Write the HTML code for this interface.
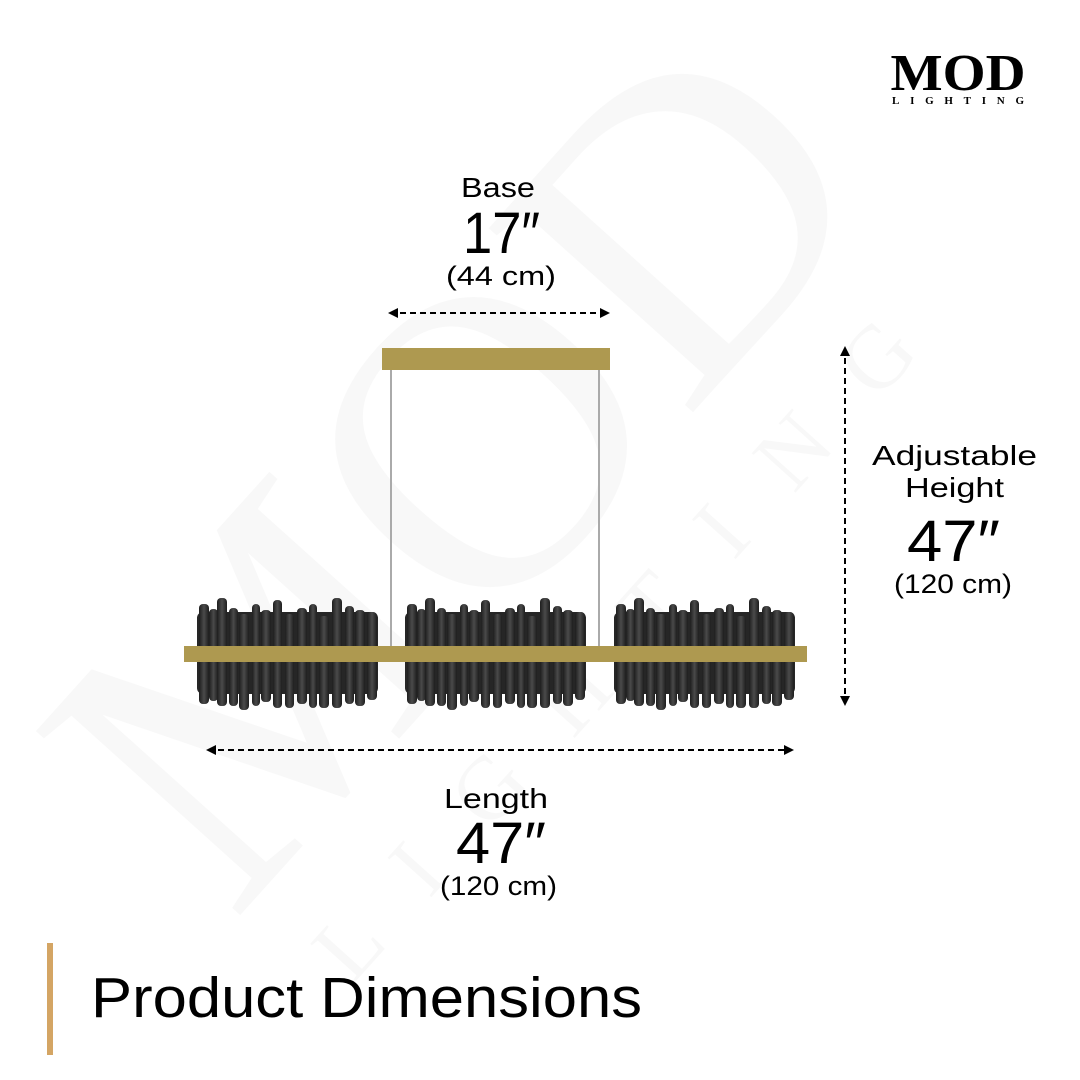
<!DOCTYPE html>
<html><head><meta charset="utf-8"><style>
html,body{margin:0;padding:0;background:#fff;}
svg{display:block;}
text{font-family:"Liberation Sans",sans-serif;fill:#000;}
</style></head><body>
<svg width="1080" height="1080" viewBox="0 0 1080 1080" xmlns="http://www.w3.org/2000/svg">
<defs>
<linearGradient id="fg" x1="0" x2="1" y1="0" y2="0">
<stop offset="0" stop-color="#1e1e1e"/><stop offset="0.5" stop-color="#4a4a4a"/><stop offset="1" stop-color="#1e1e1e"/>
</linearGradient>
<g id="cl">
<rect x="0" y="612" width="181" height="82" rx="6" fill="#262626"/>
<rect x="2" y="604" width="10" height="100" rx="4" fill="url(#fg)"/>
<rect x="12" y="609" width="9" height="92" rx="4" fill="url(#fg)"/>
<rect x="20" y="598" width="10" height="108" rx="4" fill="url(#fg)"/>
<rect x="32" y="608" width="9" height="98" rx="4" fill="url(#fg)"/>
<rect x="42" y="614" width="10" height="96" rx="4" fill="url(#fg)"/>
<rect x="55" y="604" width="8" height="102" rx="4" fill="url(#fg)"/>
<rect x="64" y="610" width="10" height="92" rx="4" fill="url(#fg)"/>
<rect x="76" y="600" width="9" height="108" rx="4" fill="url(#fg)"/>
<rect x="88" y="614" width="9" height="94" rx="4" fill="url(#fg)"/>
<rect x="100" y="608" width="10" height="96" rx="4" fill="url(#fg)"/>
<rect x="112" y="604" width="8" height="104" rx="4" fill="url(#fg)"/>
<rect x="122" y="616" width="10" height="92" rx="4" fill="url(#fg)"/>
<rect x="135" y="598" width="10" height="110" rx="4" fill="url(#fg)"/>
<rect x="148" y="606" width="9" height="98" rx="4" fill="url(#fg)"/>
<rect x="158" y="610" width="10" height="96" rx="4" fill="url(#fg)"/>
<rect x="170" y="612" width="10" height="88" rx="4" fill="url(#fg)"/>
</g>
<marker id="ah" markerWidth="10" markerHeight="10" refX="8" refY="5" orient="auto-start-reverse" markerUnits="userSpaceOnUse">
<path d="M0,0 L10,5 L0,10 Z" fill="#000"/></marker>
</defs>
<g opacity="0.025" transform="translate(560,560) rotate(-48)">
<text x="0" y="0" text-anchor="middle" font-size="420" style="font-family:'Liberation Serif',serif">MOD</text>
<text x="0" y="130" text-anchor="middle" font-size="90" letter-spacing="60" style="font-family:'Liberation Serif',serif">LIGHTING</text>
</g>
<text x="958" y="90" text-anchor="middle" font-size="52" font-weight="bold" style="font-family:'Liberation Serif',serif" textLength="135" lengthAdjust="spacingAndGlyphs">MOD</text>
<text x="958" y="104" text-anchor="middle" font-size="11" font-weight="bold" style="font-family:'Liberation Serif',serif" textLength="132" lengthAdjust="spacing">LIGHTING</text>
<line x1="391" y1="370" x2="391" y2="648" stroke="#aaa" stroke-width="2"/>
<line x1="599" y1="370" x2="599" y2="648" stroke="#aaa" stroke-width="2"/>
<rect x="382" y="348" width="228" height="22" fill="#ae9950"/>
<use href="#cl" transform="translate(197,0)"/>
<use href="#cl" transform="translate(405,0)"/>
<use href="#cl" transform="translate(614,0)"/>
<rect x="184" y="646" width="623" height="16" fill="#ae9950"/>
<line x1="390" y1="313" x2="608" y2="313" stroke="#000" stroke-width="2" stroke-dasharray="6,4" marker-start="url(#ah)" marker-end="url(#ah)"/>
<line x1="845" y1="348" x2="845" y2="704" stroke="#000" stroke-width="2" stroke-dasharray="6,4" marker-start="url(#ah)" marker-end="url(#ah)"/>
<line x1="208" y1="750" x2="792" y2="750" stroke="#000" stroke-width="2" stroke-dasharray="6,4" marker-start="url(#ah)" marker-end="url(#ah)"/>
<text x="461" y="197" font-size="28" textLength="74" lengthAdjust="spacingAndGlyphs">Base</text>
<text x="463" y="253" font-size="58" textLength="77" lengthAdjust="spacingAndGlyphs">17″</text>
<text x="446" y="285" font-size="27" textLength="110" lengthAdjust="spacingAndGlyphs">(44 cm)</text>
<text x="872" y="465" font-size="28" textLength="165" lengthAdjust="spacingAndGlyphs">Adjustable</text>
<text x="905" y="497" font-size="28" textLength="99" lengthAdjust="spacingAndGlyphs">Height</text>
<text x="907" y="561" font-size="58" textLength="93" lengthAdjust="spacingAndGlyphs">47″</text>
<text x="894" y="593" font-size="27" textLength="118" lengthAdjust="spacingAndGlyphs">(120 cm)</text>
<text x="444" y="808" font-size="28" textLength="104" lengthAdjust="spacingAndGlyphs">Length</text>
<text x="456" y="863" font-size="58" textLength="90" lengthAdjust="spacingAndGlyphs">47″</text>
<text x="440" y="895" font-size="27" textLength="117" lengthAdjust="spacingAndGlyphs">(120 cm)</text>
<rect x="47" y="943" width="6" height="112" fill="#d4a564"/>
<text x="91" y="1017" font-size="57" textLength="551" lengthAdjust="spacingAndGlyphs">Product Dimensions</text>
</svg>
</body></html>
